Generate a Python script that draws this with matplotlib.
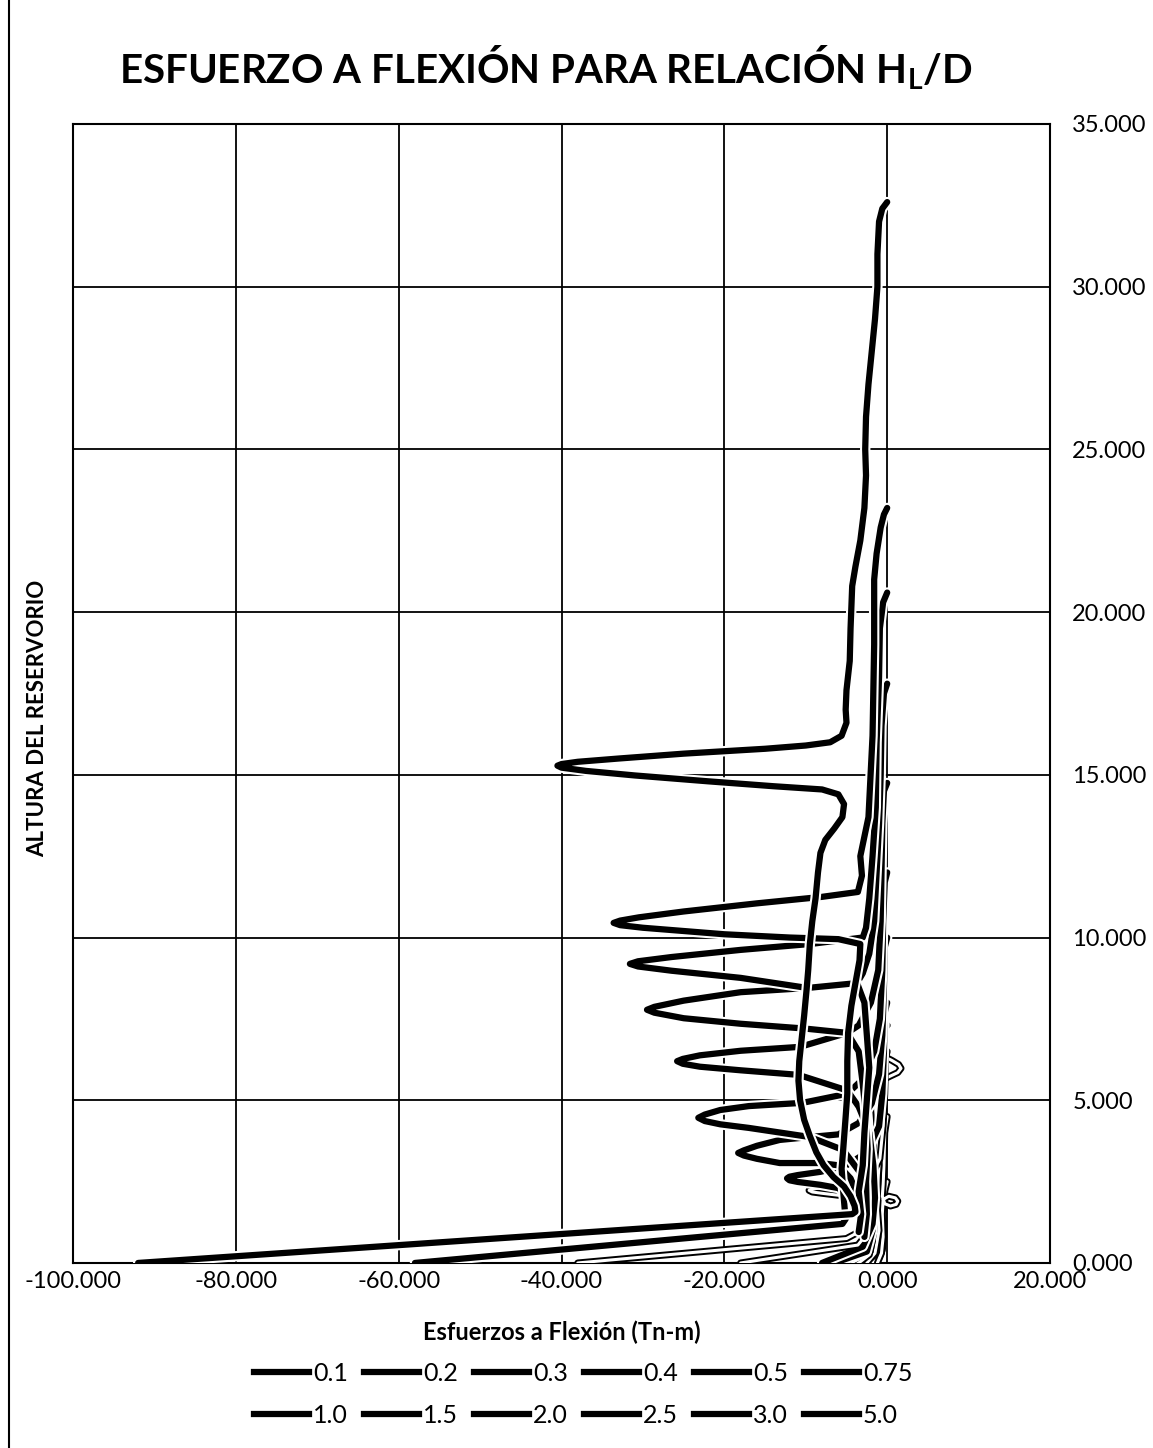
import numpy as np
import matplotlib.pyplot as plt
from matplotlib.lines import Line2D
import matplotlib.patheffects as pe

plt.rcParams['font.family'] = ['Lato', 'DejaVu Sans']
plt.rcParams['mathtext.fontset'] = 'custom'
plt.rcParams['mathtext.rm'] = 'Lato:bold'
plt.rcParams['mathtext.it'] = 'Lato:bold'
plt.rcParams['mathtext.bf'] = 'Lato:bold'
plt.rcParams['mathtext.default'] = 'rm'

labels = ["0.1", "0.2", "0.3", "0.4", "0.5", "0.75", "1.0", "1.5", "2.0", "2.5", "3.0", "5.0"]

# moment (x) vs height (y) for each H_L/D ratio
x_01 = [0, -0.3, -0.4, -0.4, -0.6, -1.0, -1.8]
y_01 = [2.5, 2.2, 1.5, 0.8, 0.4, 0.15, 0.0]

x_02 = [0, -0.3, -0.4, -0.5, -0.6, -0.3, 0.4, 1.1, 1.3, 1.0, 0.2, -0.5, -0.6, -0.5, -0.7, -1.2]
y_02 = [4.5, 4.0, 3.0, 2.4, 2.05, 1.82, 1.75, 1.8, 1.9, 2.0, 2.05, 1.95, 1.5, 0.8, 0.3, 0.0]

x_03 = [0, -0.6, -1.2, -1.7, -0.8, 0.6, 1.4, 1.7, 1.3, 0.2, -0.8, -1.3, -1.5, -1.2,
        -1.0, -1.3, -1.0, -1.5, -2.5]
y_03 = [7.3, 7.15, 6.9, 6.6, 6.4, 6.22, 6.1, 5.98, 5.85, 5.72, 5.6, 5.4, 5.0, 4.0,
        3.0, 2.0, 1.0, 0.3, 0.0]

x_04 = [0, -0.2, -0.3, -0.5, -0.9, -1.8, -3.0, -5.0, -8.0, -9.2, -9.6, -9.2, -8.0,
        -5.0, -3.5, -2.5, -1.8, -2.2, -3.5]
y_04 = [6.5, 6.3, 5.2, 4.2, 3.2, 2.75, 2.55, 2.4, 2.31, 2.27, 2.23, 2.18, 2.14,
        2.05, 1.8, 1.3, 0.7, 0.25, 0.0]

x_05 = [0, -0.3, -0.4, -0.6, -1.0, -2.5, -5.0, -8.2, -11.0, -12.0, -12.3, -12.0, -11.0,
        -8.2, -6.0, -4.5, -3.2, -2.5, -2.8, -4.5]
y_05 = [8.0, 7.7, 6.5, 5.2, 4.2, 3.4, 3.0, 2.8, 2.7, 2.65, 2.6, 2.54, 2.49,
        2.4, 2.3, 2.0, 1.5, 0.8, 0.3, 0.0]

x_075 = [0, -0.3, -0.4, -0.6, -1.0, -1.9, -3.5, -6.0, -9.5, -13.2, -16.0, -17.6, -18.3,
         -17.6, -16.0, -13.2, -8.2, -6.0, -4.5, -3.5, -2.8, -2.4, -3.0, -5.5]
y_075 = [10.0, 9.7, 8.5, 7.0, 5.8, 4.9, 4.3, 3.95, 3.87, 3.78, 3.6, 3.46, 3.38,
         3.3, 3.2, 3.07, 3.07, 3.0, 2.6, 2.0, 1.5, 0.8, 0.3, 0.0]

x_10 = [0, -0.3, -0.5, -0.6, -0.9, -1.6, -3.2, -4.9, -10.4, -17.0, -20.5, -22.4, -23.2,
        -22.4, -20.5, -17.0, -9.5, -5.4, -4.0, -2.5, -2.0, -1.8, -2.5, -6.5]
y_10 = [12.0, 11.7, 10.5, 9.0, 7.5, 6.5, 5.6, 5.2, 4.92, 4.82, 4.7, 4.56, 4.46,
        4.36, 4.26, 4.15, 3.87, 3.47, 3.0, 2.5, 1.8, 1.0, 0.35, 0.0]

x_15 = [0, -0.4, -0.6, -0.7, -0.8, -1.1, -2.0, -3.5, -4.9, -10.7, -18.0, -23.0, -25.1,
        -25.8, -25.1, -23.0, -18.0, -10.9, -4.9, -3.5, -2.2, -1.7, -1.5, -1.8, -3.0, -8.0]
y_15 = [14.75, 14.5, 13.5, 12.0, 10.5, 9.0, 8.0, 7.3, 7.07, 6.64, 6.52, 6.38, 6.27,
        6.2, 6.12, 6.03, 5.92, 5.78, 5.3, 4.8, 4.0, 3.0, 2.0, 1.2, 0.5, 0.0]

x_20 = [0, -0.4, -0.7, -0.8, -1.0, -1.3, -1.6, -2.2, -3.0, -3.7, -9.8, -18.0, -25.0, -28.6,
        -29.5, -28.6, -25.0, -18.0, -10.0, -4.9, -3.5, -3.0, -2.6, -2.4, -2.6, -2.5, -2.8,
        -3.6, -18.0]
y_20 = [17.8, 17.5, 16.5, 15.0, 13.5, 12.0, 10.5, 9.5, 8.9, 8.6, 8.45, 8.32, 8.06, 7.87,
        7.78, 7.69, 7.52, 7.35, 7.2, 7.07, 6.5, 5.5, 4.5, 3.5, 2.5, 1.5, 0.8,
        0.55, 0.0]

x_25 = [0, -0.5, -0.9, -1.0, -1.3, -1.4, -1.8, -2.2, -2.6, -3.0, -9.5, -18.0, -26.5, -30.6,
        -31.6, -30.6, -26.5, -18.0, -9.8, -3.7, -2.8, -2.5, -2.2, -2.5, -2.8, -3.0, -3.5,
        -3.2, -3.5, -5.0, -38.0]
y_25 = [20.6, 20.3, 19.5, 18.0, 16.0, 14.0, 12.5, 11.2, 10.3, 10.0, 9.8, 9.62, 9.4, 9.27,
        9.19, 9.11, 8.98, 8.76, 8.45, 8.6, 8.0, 7.0, 6.0, 5.0, 4.0, 3.0, 2.2,
        1.5, 0.95, 0.75, 0.0]

x_30 = [0, -0.4, -0.8, -1.3, -1.6, -1.6, -1.8, -2.3, -3.3, -3.1, -3.6, -8.0, -16.0, -25.0,
        -30.5, -32.8, -33.6, -32.8, -30.0, -26.0, -20.0, -12.0, -6.0, -3.3, -3.4, -3.9,
        -4.4, -4.8, -4.9, -4.9, -5.1, -5.4, -5.6, -5.4, -5.2, -5.1, -5.5, -58.0]
y_30 = [23.2, 23.0, 22.6, 21.8, 21.0, 19.0, 16.2, 13.7, 12.5, 11.9, 11.4, 11.25, 11.05, 10.8,
        10.62, 10.52, 10.45, 10.38, 10.3, 10.22, 10.1, 10.0, 9.95, 9.8, 9.3, 8.6,
        7.9, 7.07, 6.2, 5.2, 4.5, 3.5, 2.9, 2.2, 1.6, 1.35, 1.2, 0.0]

x_50 = [0, -0.6, -1.0, -1.2, -1.2, -1.5, -1.9, -2.3, -2.6, -2.7, -2.6, -2.8, -3.3, -3.9,
        -4.3, -4.5, -4.6, -5.0, -5.1, -5.0, -5.6, -7.0, -10.0, -15.0, -25.0, -33.0, -38.0,
        -40.0, -40.5, -40.0, -37.0, -31.0, -22.0, -14.0, -8.0, -6.0, -5.3, -5.5, -6.5,
        -7.6, -8.2, -8.5, -8.8, -9.2, -9.5, -9.7, -9.9, -10.2, -10.5, -10.8, -10.9, -10.7,
        -10.2, -9.5, -8.7, -7.8, -6.6, -5.3, -4.5, -4.0, -3.9, -4.3, -92.0]
y_50 = [32.6, 32.4, 32.0, 31.0, 30.0, 29.0, 28.0, 27.0, 26.0, 25.0, 24.2, 23.2, 22.2, 21.4,
        20.8, 19.5, 18.5, 17.6, 17.0, 16.6, 16.2, 16.0, 15.9, 15.8, 15.65, 15.5, 15.4,
        15.33, 15.28, 15.22, 15.12, 14.98, 14.8, 14.65, 14.55, 14.4, 14.1, 13.7, 13.35,
        13.0, 12.6, 12.0, 11.2, 10.5, 9.8, 9.0, 8.4, 7.6, 6.9, 6.2, 5.6, 5.0,
        4.4, 3.9, 3.4, 3.0, 2.64, 2.35, 2.05, 1.75, 1.57, 1.5, 0.0]

xs = [x_01, x_02, x_03, x_04, x_05, x_075, x_10, x_15, x_20, x_25, x_30, x_50]
ys = [y_01, y_02, y_03, y_04, y_05, y_075, y_10, y_15, y_20, y_25, y_30, y_50]

fig = plt.figure(figsize=(11.53, 14.48), dpi=100)
ax = fig.add_axes([0.0633, 0.1278, 0.8474, 0.7866])

solid = [pe.Stroke(linewidth=7.5, foreground='white'), pe.Normal()]
hollow = [pe.Stroke(linewidth=5.0, foreground='black'), pe.Normal()]

def draw_hollow(x, y):
    ax.plot(x, y, color='white', lw=2.2, solid_joinstyle='round',
            solid_capstyle='round', path_effects=hollow, zorder=3)

def draw_solid(x, y):
    ax.plot(x, y, color='black', lw=4.5, solid_joinstyle='round',
            solid_capstyle='round', path_effects=solid, zorder=3)

for i in range(len(xs)):
    if i < 4:
        draw_hollow(xs[i], ys[i])
    elif labels[i] in ("2.0", "2.5"):
        # bottom tail of these two prints faint in the scan
        draw_hollow(xs[i][-3:], ys[i][-3:])
        draw_solid(xs[i][:-2], ys[i][:-2])
    else:
        draw_solid(xs[i], ys[i])

ax.set_xlim(-100, 20)
ax.set_ylim(0, 35)
ax.set_xticks(np.arange(-100, 21, 20))
ax.set_yticks(np.arange(0, 36, 5))
ax.set_xticklabels(["%.3f" % v for v in np.arange(-100, 21, 20)])
ax.set_yticklabels(["%.3f" % v for v in np.arange(0, 36, 5)])
ax.yaxis.tick_right()
ax.tick_params(length=0, labelsize=17)
ax.tick_params(axis='x', pad=6)
ax.tick_params(axis='y', pad=16)
ax.grid(True, color='black', lw=1.3)
ax.set_axisbelow(True)
for s in ax.spines.values():
    s.set_color('black')
    s.set_linewidth(1.5)

ax.set_xlabel("Esfuerzos a Flexión (Tn-m)", fontsize=17, fontweight='bold', labelpad=20)
fig.text(0.033, 0.504, "ALTURA DEL RESERVORIO", rotation=90, fontsize=16,
         fontweight='bold', ha='center', va='center')

fig.text(0.4736, 0.953, "ESFUERZO A FLEXIÓN PARA RELACIÓN H$_{L}$/D", fontsize=29,
         fontweight='bold', ha='center', va='center')

# legend fills column by column, so interleave the two rows
order = []
for c in range(6):
    order += [c, c + 6]
handles = [Line2D([], [], color='black', lw=4.5) for _ in labels]
fig.legend([handles[k] for k in order], [labels[k] for k in order], loc='center',
           bbox_to_anchor=(0.506, 0.037), ncol=6, frameon=False, fontsize=18,
           handlelength=2.2, handletextpad=0.15, columnspacing=0.65, labelspacing=0.75)

fig.add_artist(Line2D([0.008, 0.008], [0, 1], color='black', lw=1.5))

fig.savefig("out.png", dpi=100)
